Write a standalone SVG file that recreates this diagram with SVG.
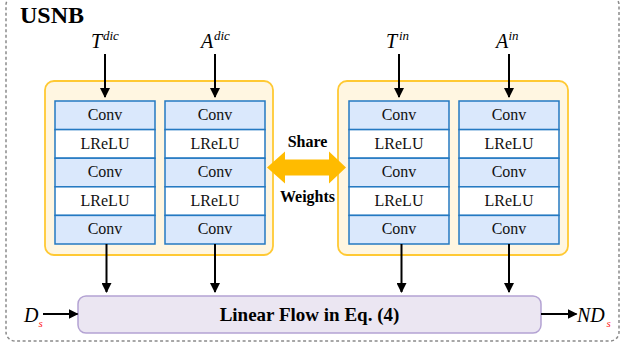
<svg xmlns="http://www.w3.org/2000/svg" width="621" height="349" viewBox="0 0 621 349" font-family="Liberation Serif, serif">
<style>
.cell{stroke:#2479c2;stroke-width:1.5}
.conv{fill:#dae8fc}
.lrelu{fill:#ffffff}
.ct{font-size:16px;text-anchor:middle;fill:#111}
.cont{fill:#fff6e1;stroke:#ffc933;stroke-width:1.8}
.math{font-style:italic}
.bold{font-weight:bold}
.red{fill:#ff2020}
.conn{stroke:#000;stroke-width:2;fill:none;marker-end:url(#ah)}
</style>
<defs>
<marker id="ah" viewBox="0 0 10 10" refX="9" refY="5" markerWidth="5" markerHeight="5" orient="auto" markerUnits="strokeWidth">
<path d="M0,0 L10,5 L0,10 z" fill="#000"/>
</marker>
</defs>
<rect id="usnb-border" x="6" y="-4" width="613" height="345" rx="9" fill="none" stroke="#8a8a8a" stroke-width="1.5" stroke-dasharray="3 2.5"/>
<text class="bold" x="20" y="23" font-size="24" font-family="Liberation Serif">USNB</text>

<g id="dic-encoder" font-family="Liberation Serif">
<rect class="cont" x="45" y="81" width="228" height="174" rx="9"/>
<g id="dic-col-T" transform="translate(55,101)">
<rect class="cell conv" x="0" y="0" width="100" height="28.6"/>
<rect class="cell lrelu" x="0" y="28.6" width="100" height="28.6"/>
<rect class="cell conv" x="0" y="57.2" width="100" height="28.6"/>
<rect class="cell lrelu" x="0" y="85.8" width="100" height="28.6"/>
<rect class="cell conv" x="0" y="114.4" width="100" height="28.6"/>
<text class="ct" x="50" y="19">Conv</text>
<text class="ct" x="50" y="47.6">LReLU</text>
<text class="ct" x="50" y="76.2">Conv</text>
<text class="ct" x="50" y="104.8">LReLU</text>
<text class="ct" x="50" y="133.4">Conv</text>
</g>
<g id="dic-col-A" transform="translate(165,101)">
<rect class="cell conv" x="0" y="0" width="100" height="28.6"/>
<rect class="cell lrelu" x="0" y="28.6" width="100" height="28.6"/>
<rect class="cell conv" x="0" y="57.2" width="100" height="28.6"/>
<rect class="cell lrelu" x="0" y="85.8" width="100" height="28.6"/>
<rect class="cell conv" x="0" y="114.4" width="100" height="28.6"/>
<text class="ct" x="50" y="19">Conv</text>
<text class="ct" x="50" y="47.6">LReLU</text>
<text class="ct" x="50" y="76.2">Conv</text>
<text class="ct" x="50" y="104.8">LReLU</text>
<text class="ct" x="50" y="133.4">Conv</text>
</g>
</g>
<g id="in-encoder" font-family="Liberation Serif">
<rect class="cont" x="338" y="81" width="230" height="174" rx="9"/>
<g id="in-col-T" transform="translate(349,101)">
<rect class="cell conv" x="0" y="0" width="100" height="28.6"/>
<rect class="cell lrelu" x="0" y="28.6" width="100" height="28.6"/>
<rect class="cell conv" x="0" y="57.2" width="100" height="28.6"/>
<rect class="cell lrelu" x="0" y="85.8" width="100" height="28.6"/>
<rect class="cell conv" x="0" y="114.4" width="100" height="28.6"/>
<text class="ct" x="50" y="19">Conv</text>
<text class="ct" x="50" y="47.6">LReLU</text>
<text class="ct" x="50" y="76.2">Conv</text>
<text class="ct" x="50" y="104.8">LReLU</text>
<text class="ct" x="50" y="133.4">Conv</text>
</g>
<g id="in-col-A" transform="translate(459,101)">
<rect class="cell conv" x="0" y="0" width="100" height="28.6"/>
<rect class="cell lrelu" x="0" y="28.6" width="100" height="28.6"/>
<rect class="cell conv" x="0" y="57.2" width="100" height="28.6"/>
<rect class="cell lrelu" x="0" y="85.8" width="100" height="28.6"/>
<rect class="cell conv" x="0" y="114.4" width="100" height="28.6"/>
<text class="ct" x="50" y="19">Conv</text>
<text class="ct" x="50" y="47.6">LReLU</text>
<text class="ct" x="50" y="76.2">Conv</text>
<text class="ct" x="50" y="104.8">LReLU</text>
<text class="ct" x="50" y="133.4">Conv</text>
</g>
</g>

<g id="share-weights" font-family="Liberation Serif">
<path d="M267,167.5 L285,151.5 L285,159.5 L329,159.5 L329,151.5 L346,167.5 L329,183.5 L329,175.5 L285,175.5 L285,183.5 z" fill="#ffbb00"/>
<text class="bold" x="307.5" y="147" font-size="16" text-anchor="middle">Share</text>
<text class="bold" x="307.5" y="202" font-size="16" text-anchor="middle">Weights</text>
</g>

<g id="linear-flow" font-family="Liberation Serif">
<rect x="78" y="296" width="463" height="37" rx="8" fill="#ebe6f2" stroke="#b4a3d3" stroke-width="1.5"/>
<text class="bold" x="309.5" y="321" font-size="19" text-anchor="middle">Linear Flow in Eq. (4)</text>
</g>

<g id="labels" font-family="Liberation Serif">
<text class="math" x="91" y="47.5" font-size="20">T</text><text class="math" x="103" y="39.5" font-size="13">dic</text>
<text class="math" x="201" y="47.5" font-size="20">A</text><text class="math" x="214" y="39.5" font-size="13">dic</text>
<text class="math" x="386" y="47.5" font-size="20">T</text><text class="math" x="399" y="39.5" font-size="13">in</text>
<text class="math" x="496" y="47.5" font-size="20">A</text><text class="math" x="508.5" y="39.5" font-size="13">in</text>
<text class="math" x="24" y="322" font-size="20">D</text><text class="math red" x="38.5" y="327" font-size="11">s</text>
<text class="math" x="577" y="322" font-size="20">ND</text><text class="math red" x="606.5" y="327" font-size="11">s</text>
</g>

<g id="connectors">
<line class="conn" x1="105" y1="54" x2="105" y2="97"/>
<line class="conn" x1="215" y1="54" x2="215" y2="97"/>
<line class="conn" x1="399" y1="54" x2="399" y2="97"/>
<line class="conn" x1="509" y1="54" x2="509" y2="97"/>
<line class="conn" x1="106.5" y1="244" x2="106.5" y2="292"/>
<line class="conn" x1="215" y1="244" x2="215" y2="292"/>
<line class="conn" x1="401.5" y1="244" x2="401.5" y2="292"/>
<line class="conn" x1="509" y1="244" x2="509" y2="292"/>
<line class="conn" x1="43" y1="314" x2="77.5" y2="314"/>
<line class="conn" x1="541" y1="314" x2="576.5" y2="314"/>
</g>
</svg>
